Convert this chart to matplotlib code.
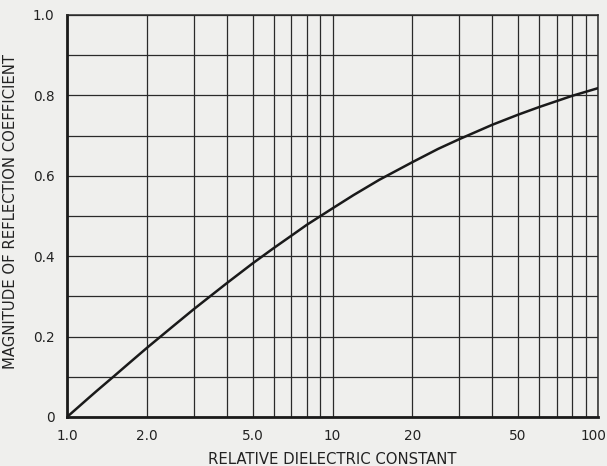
import matplotlib
matplotlib.use("Agg")
import matplotlib.pyplot as plt
import matplotlib.transforms as mtransforms
from matplotlib.ticker import FixedLocator, NullFormatter, NullLocator

# Relative dielectric constant and the magnitude of the reflection coefficient
dielectric_constant = [1.0, 1.1, 1.2, 1.3, 1.5, 1.7, 2.0, 2.5, 3.0, 4.0, 5.0, 6.0,
                       7.0, 8.0, 10, 12, 15, 20, 25, 30, 40, 50, 60, 70, 80, 100]
reflection_magnitude = [0.0, 0.024, 0.046, 0.066, 0.101, 0.132, 0.172, 0.225, 0.268,
                        0.333, 0.382, 0.420, 0.451, 0.478, 0.519, 0.552, 0.590, 0.634,
                        0.667, 0.691, 0.727, 0.752, 0.771, 0.786, 0.799, 0.818]

x_tick_values = [1, 2, 5, 10, 20, 50, 100]
x_tick_labels = ["1.0", "2.0", "5.0", "10", "20", "50", "100"]
x_grid_values = [1, 2, 3, 4, 5, 6, 7, 8, 9, 10, 20, 30, 40, 50, 60, 70, 80, 90, 100]
y_tick_values = [0, 0.2, 0.4, 0.6, 0.8, 1.0]
y_tick_labels = ["0", "0.2", "0.4", "0.6", "0.8", "1.0"]
y_grid_values = [i / 10 for i in range(11)]

paper = "#efefed"
ink = "#1a1a1a"

fig = plt.figure(figsize=(6.07, 4.66), dpi=100, facecolor=paper)
ax = fig.add_axes([67 / 607, 49 / 466, 531 / 607, 402 / 466], facecolor=paper)

ax.set_xscale("log")
ax.set_xlim(1, 100)
ax.set_ylim(0, 1.0)

for xv in x_grid_values:
    ax.axvline(xv, color="#2a2a2a", lw=0.9, zorder=1)
for yv in y_grid_values:
    ax.axhline(yv, color="#2a2a2a", lw=0.9, zorder=1)

ax.plot(dielectric_constant, reflection_magnitude, color=ink, lw=1.8, zorder=3,
        solid_capstyle="round")

ax.xaxis.set_major_locator(FixedLocator(x_tick_values))
ax.set_xticklabels(x_tick_labels)
ax.xaxis.set_minor_locator(NullLocator())
ax.xaxis.set_minor_formatter(NullFormatter())
ax.set_yticks(y_tick_values)
ax.set_yticklabels(y_tick_labels)
ax.tick_params(axis="both", length=0, labelsize=9.8, colors="#222222", pad=9)

# nudge the last x label inward so it stays inside the figure
last = ax.get_xticklabels()[-1]
last.set_transform(last.get_transform()
                   + mtransforms.ScaledTranslation(-4 / 100, 0, fig.dpi_scale_trans))

for side in ["left", "bottom"]:
    ax.spines[side].set_linewidth(2.0)
    ax.spines[side].set_color(ink)
for side in ["top", "right"]:
    ax.spines[side].set_linewidth(1.1)
    ax.spines[side].set_color("#2a2a2a")

ax.set_xlabel("RELATIVE DIELECTRIC CONSTANT", fontsize=10.7, color="#222222")
ax.set_ylabel("MAGNITUDE OF REFLECTION COEFFICIENT", fontsize=10.7, color="#222222")
ax.xaxis.set_label_coords(0.5, -0.087)
ax.yaxis.set_label_coords(-0.092, 0.51)

fig.savefig("out.png", dpi=100, facecolor=paper)
